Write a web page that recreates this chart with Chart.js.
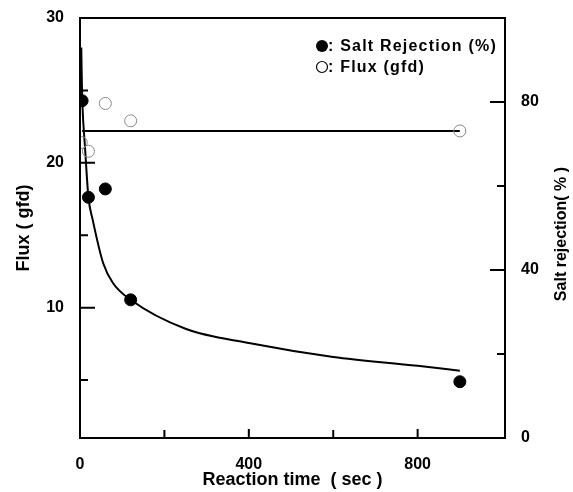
<!DOCTYPE html>
<html><head><meta charset="utf-8">
<script src="https://cdn.jsdelivr.net/npm/chart.js@4/dist/chart.umd.min.js"></script>
<style>html,body{margin:0;padding:0;background:#fff}#wrap{width:573px;height:492px;position:relative}</style>
</head><body><div id="wrap"><canvas id="c"></canvas></div>
<script>
// ---- data ----
const timeTicks = [0, 400, 800];
const timeMinorTicks = [200, 600];
const fluxTicks = [10, 20, 30];
const fluxMinorTicks = [5, 15, 25];
const rejTicks = [0, 40, 80];
const rejMinorTicks = [20, 60];

const saltTime = [5, 20, 60, 120, 900];
const saltRejection = [80.3, 57.3, 59.3, 32.9, 13.4];
const fluxTime = [3, 20, 60, 120, 900];
const fluxValues = [21.4, 20.8, 24.1, 22.9, 22.2];

const saltFitTime = [3, 4.5, 5.5, 12, 20, 30, 55, 78, 120, 250, 400, 600, 800, 900];
const saltFitValues = [93, 84, 80, 69, 57.3, 52, 41.6, 36.9, 32.9, 26.0, 22.6, 19.3, 17.2, 16.0];
const fluxFitTime = [5, 900];
const fluxFitValues = [22.2, 22.2];

const legendLabels = [': Salt Rejection (%)', ': Flux (gfd)'];
const xTitle = 'Reaction time  ( sec )';
const yTitle = 'Flux ( gfd)';
const y2Title = 'Salt rejection( % )';

const FAM = '"Liberation Sans", Arial, Helvetica, sans-serif';
const pts = (xs, ys) => xs.map((t, i) => ({x: t, y: ys[i]}));

const decor = {
  id: 'decor',
  afterDraw(chart) {
    const {ctx, chartArea: a, scales: {x, y, y2}} = chart;
    ctx.save();
    ctx.strokeStyle = '#000';
    ctx.lineWidth = 2;
    ctx.strokeRect(a.left, a.top, a.right - a.left, a.bottom - a.top);
    ctx.beginPath();
    const hx = (v, len) => { const p = x.getPixelForValue(v); ctx.moveTo(p, a.bottom); ctx.lineTo(p, a.bottom - len); };
    const hy = (v, len) => { const p = y.getPixelForValue(v); ctx.moveTo(a.left, p); ctx.lineTo(a.left + len, p); };
    const hy2 = (v, len) => { const p = y2.getPixelForValue(v); ctx.moveTo(a.right, p); ctx.lineTo(a.right - len, p); };
    timeTicks.forEach(v => hx(v, 9)); timeMinorTicks.forEach(v => hx(v, 8));
    fluxTicks.forEach(v => hy(v, 15)); fluxMinorTicks.forEach(v => hy(v, 8));
    rejTicks.forEach(v => hy2(v, 15)); rejMinorTicks.forEach(v => hy2(v, 8));
    ctx.stroke();

    // right axis title (reads bottom to top)
    ctx.fillStyle = '#000';
    ctx.font = 'bold 16px ' + FAM;
    ctx.textAlign = 'center';
    ctx.textBaseline = 'middle';
    ctx.save();
    ctx.translate(562, 234);
    ctx.rotate(-Math.PI / 2);
    ctx.fillText(y2Title, 0, 0);
    ctx.restore();

    // legend
    ctx.font = 'bold 16px ' + FAM;
    ctx.letterSpacing = '1.2px';
    ctx.textAlign = 'left';
    const lx = 322, ly1 = 46, ly2 = 67;
    ctx.beginPath(); ctx.arc(lx, ly1, 6, 0, Math.PI * 2); ctx.fill();
    ctx.fillText(legendLabels[0], lx + 6, ly1 + 1);
    ctx.lineWidth = 1.2;
    ctx.beginPath(); ctx.arc(lx, ly2, 5.5, 0, Math.PI * 2); ctx.stroke();
    ctx.fillText(legendLabels[1], lx + 6, ly2 + 1);
    ctx.restore();
  }
};

const tickFont = {family: FAM, size: 16, weight: 'bold'};
const titleFont = {family: FAM, size: 18, weight: 'bold'};

new Chart(document.getElementById('c'), {
  type: 'scatter',
  data: {
    datasets: [
      {data: pts(saltTime, saltRejection), yAxisID: 'y2', pointRadius: 6, pointHoverRadius: 6,
       backgroundColor: '#000', borderColor: '#000', borderWidth: 1, order: 0},
      {data: pts(fluxTime, fluxValues), yAxisID: 'y', pointRadius: 6, pointHoverRadius: 6,
       backgroundColor: 'rgba(255,255,255,0)', borderColor: '#888', borderWidth: 1, order: 0},
      {data: pts(saltFitTime, saltFitValues), yAxisID: 'y2', showLine: true, pointRadius: 0,
       borderColor: '#000', borderWidth: 2, cubicInterpolationMode: 'monotone', order: 1},
      {data: pts(fluxFitTime, fluxFitValues), yAxisID: 'y', showLine: true, pointRadius: 0,
       borderColor: '#000', borderWidth: 2, order: 1}
    ]
  },
  options: {
    responsive: true, maintainAspectRatio: false, animation: false,
    layout: {padding: {top: 18, left: 0, right: 0, bottom: 0}},
    plugins: {legend: {display: false}, tooltip: {enabled: false}},
    scales: {
      x: {
        type: 'linear', position: 'bottom', min: 0, max: 1007,
        afterBuildTicks: s => { s.ticks = timeTicks.map(v => ({value: v})); },
        afterFit: s => { s.height = 54; },
        grid: {display: false}, border: {display: false},
        ticks: {font: tickFont, color: '#000', padding: 9, maxRotation: 0, autoSkip: false},
        title: {display: true, text: xTitle, font: titleFont, color: '#000', padding: {top: 0, bottom: 1}}
      },
      y: {
        type: 'linear', position: 'left', min: 1, max: 30,
        afterBuildTicks: s => { s.ticks = fluxTicks.map(v => ({value: v})); },
        afterFit: s => { s.width = 80; },
        grid: {display: false}, border: {display: false},
        ticks: {font: tickFont, color: '#000', padding: 8, autoSkip: false},
        title: {display: true, text: yTitle, font: titleFont, color: '#000', padding: {top: 13, bottom: 0}}
      },
      y2: {
        type: 'linear', position: 'right', min: 0, max: 100,
        afterBuildTicks: s => { s.ticks = rejTicks.map(v => ({value: v})); },
        afterFit: s => { s.width = 68; },
        grid: {display: false}, border: {display: false},
        ticks: {font: tickFont, color: '#000', padding: 8, autoSkip: false}
      }
    }
  },
  plugins: [decor]
});
</script>
</body></html>
